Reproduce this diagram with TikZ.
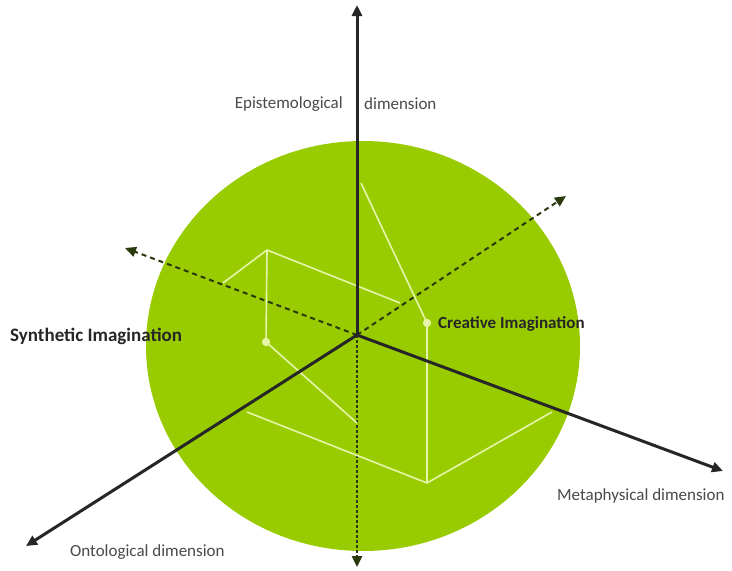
\documentclass[tikz,border=0pt]{standalone}
\usepackage{fontspec}
\setmainfont{Carlito}
\usetikzlibrary{arrows.meta}
\definecolor{disc}{HTML}{99CC00}
\definecolor{wline}{HTML}{E6F5A8}
\definecolor{dimtext}{HTML}{4A4A4A}
\definecolor{dashcol}{HTML}{2A3A0E}
\tikzset{
  axis/.style={line width=3pt, black!85, -{Triangle[length=11pt,width=10pt]}},
  dashaxis/.style={line width=2pt, dashcol, dash pattern=on 5pt off 4pt, -{Triangle[length=11pt,width=10pt]}},
  dotaxis/.style={line width=2.4pt, dashcol, dash pattern=on 2.5pt off 2.5pt, -{Triangle[length=11pt,width=10pt]}},
  wl/.style={line width=1.6pt, wline, line join=round},
  pt/.style={circle, fill=wline, inner sep=0pt, minimum size=8pt},
  dimlabel/.style={text=dimtext, font=\fontsize{17}{19}\selectfont, inner sep=0pt},
  imaglabel/.style={text=black!85, inner sep=0pt}
}
\begin{document}
\begin{tikzpicture}[x=1pt,y=-1pt]
\useasboundingbox (0,0) rectangle (732,571);
\fill[white] (0,0) rectangle (732,571);
\fill[disc] (363,346) ellipse [x radius=217pt, y radius=205pt];
\coordinate (O) at (357,335);
\coordinate (up) at (357,5);
\coordinate (down) at (357,567);
\coordinate (onto) at (26,546);
\coordinate (meta) at (723,471);
\coordinate (ur) at (566,196);
\coordinate (ul) at (125,248);
% dashed / dotted axes
\draw[dashaxis] (O) -- (ur);
\draw[dashaxis] (O) -- (ul);
\draw[dotaxis] (O) -- (down);
% white construction lines
\node[pt] (syn) at (266,342) {};
\node[pt] (cre) at (427,323) {};
\coordinate (a1) at (223,283);
\coordinate (a2) at (267,250);
\coordinate (a3) at (400,303);
\coordinate (b1) at (361,183);
\coordinate (c1) at (357,423);
\coordinate (d1) at (247,412);
\coordinate (d2) at (427,483);
\coordinate (d3) at (552,412);
\draw[wl] (a1) -- (a2) -- (a3);
\draw[wl] (a2) -- (syn.center);
\draw[wl] (syn.center) -- (c1);
\draw[wl] (b1) -- (cre.center);
\draw[wl] (cre.center) -- (d2);
\draw[wl] (d1) -- (d2) -- (d3);
% solid axes
\draw[axis] (O) -- (up);
\draw[axis] (O) -- (onto);
\draw[axis] (O) -- (meta);
\node[pt] at (syn) {};
\node[pt] at (cre) {};
% labels
\node[dimlabel, anchor=east] (ep1) at (343,104) {Epistemological};
\node[dimlabel, anchor=west] (ep2) at (364,104) {dimension};
\node[imaglabel, anchor=west, font=\bfseries\fontsize{19}{21}\selectfont] (synl) at (10,336) {Synthetic Imagination};
\node[imaglabel, anchor=west, font=\bfseries\fontsize{17}{19}\selectfont] (crel) at (438,324) {Creative Imagination};
\node[dimlabel, anchor=west] (metal) at (557,496) {Metaphysical dimension};
\node[dimlabel, anchor=west] (ontol) at (70,552) {Ontological dimension};
\end{tikzpicture}
\end{document}
